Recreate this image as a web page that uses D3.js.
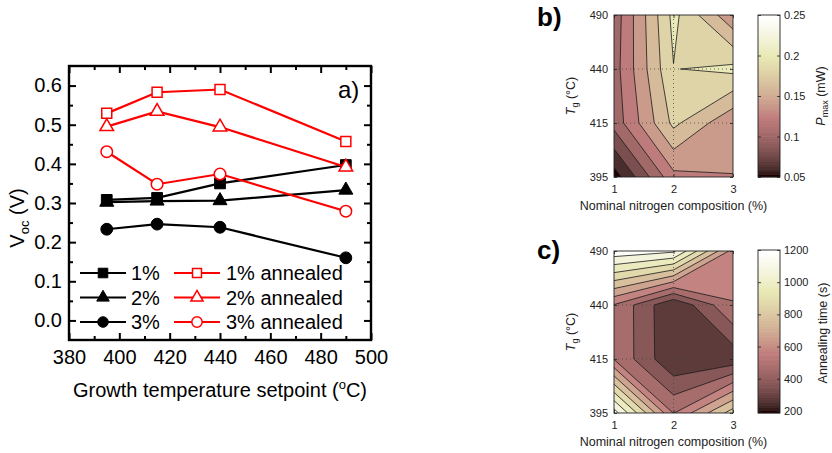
<!DOCTYPE html>
<html lang="en">
<head>
<meta charset="UTF-8">
<title>Voc vs growth temperature, Pmax and annealing time maps</title>
<script src="https://d3js.org/d3.v7.min.js"></script>
<style>
  body { margin: 0; background: #fff; }
  text { font-family: "Liberation Sans", Arial, sans-serif; }
</style>
</head>
<body>
<svg id="fig" width="832" height="453"></svg>
<script>
// ---- panel a data ----
const temps = [395, 415, 440, 490];
const voc1 = [0.308, 0.313, 0.350, 0.397];
const voc2 = [0.302, 0.305, 0.306, 0.333];
const voc3 = [0.233, 0.246, 0.238, 0.160];
const voc1a = [0.529, 0.583, 0.590, 0.457];
const voc2a = [0.495, 0.534, 0.494, 0.392];
const voc3a = [0.431, 0.348, 0.374, 0.279];
const xTicks = [380, 400, 420, 440, 460, 480, 500];
const xMinor = [390, 410, 430, 450, 470, 490];
const yTicks = [0.0, 0.1, 0.2, 0.3, 0.4, 0.5, 0.6];
const yMinor = [0.05, 0.15, 0.25, 0.35, 0.45, 0.55];

// ---- panels b and c data (rows: Tg = 490, 440, 415, 395; cols: N = 1, 2, 3) ----
const nitrogen = [1, 2, 3];
const tgRows = [490, 440, 415, 395];
const pmax = [
  [0.108, 0.206, 0.144],
  [0.111, 0.1993, 0.2053],
  [0.1075, 0.185, 0.143],
  [0.050, 0.134, 0.1398]
];
const pmaxLevels = [0.06, 0.08, 0.10, 0.12, 0.14, 0.16, 0.18, 0.20, 0.22, 0.24];
const pmaxTicks = [0.05, 0.1, 0.15, 0.2, 0.25];
const anneal = [
  [1170, 1120, 560],
  [495, 205, 495],
  [495, 210, 230],
  [1150, 495, 850]
];
const annealLevels = [200, 300, 400, 500, 600, 700, 800, 900, 1000, 1100];
const annealTicks = [200, 400, 600, 800, 1000, 1200];

const svg = d3.select("#fig");

// matlab "pink" colormap, 64 entries
function matlabPink(m) {
  const n = Math.floor(3 * m / 8);
  return d3.range(m).map(i => {
    const gr = i / (m - 1);
    const hr = i < n ? (i + 1) / n : 1;
    const hg = i < n ? 0 : i < 2 * n ? (i - n + 1) / n : 1;
    const hb = i < 2 * n ? 0 : (i - 2 * n + 1) / (m - 2 * n);
    return d3.rgb(255 * Math.sqrt((2 * gr + hr) / 3),
                  255 * Math.sqrt((2 * gr + hg) / 3),
                  255 * Math.sqrt((2 * gr + hb) / 3));
  });
}
const pink = matlabPink(64);
const cmap = t => pink[Math.max(0, Math.min(63, Math.floor(t * 64)))];

function styleAxis(g, size) {
  g.select(".domain").remove();
  g.attr("font-family", "Liberation Sans").attr("font-size", size);
}

// ================= panel a =================
const A = { left: 69, right: 371, top: 66, bottom: 340 };
const x = d3.scaleLinear().domain([380, 500]).range([A.left, A.right]);
const y = d3.scaleLinear().domain([-0.05, 0.65]).range([A.bottom, A.top]);
const ga = svg.append("g");

ga.append("g").attr("transform", `translate(0,${A.bottom})`)
  .call(d3.axisBottom(x).tickValues(xTicks).tickSize(-7).tickPadding(10).tickFormat(d3.format("d")))
  .call(g => styleAxis(g, 20));
ga.append("g").attr("transform", `translate(0,${A.bottom})`)
  .call(d3.axisBottom(x).tickValues(xMinor).tickSize(-4).tickFormat(""))
  .call(g => styleAxis(g, 20));
ga.append("g").attr("transform", `translate(0,${A.top})`)
  .call(d3.axisTop(x).tickValues(xTicks).tickSize(-7).tickFormat(""))
  .call(g => styleAxis(g, 20));
ga.append("g").attr("transform", `translate(0,${A.top})`)
  .call(d3.axisTop(x).tickValues(xMinor).tickSize(-4).tickFormat(""))
  .call(g => styleAxis(g, 20));
ga.append("g").attr("transform", `translate(${A.left},0)`)
  .call(d3.axisLeft(y).tickValues(yTicks).tickSize(-7).tickPadding(7).tickFormat(d3.format(".1f")))
  .call(g => styleAxis(g, 20));
ga.append("g").attr("transform", `translate(${A.left},0)`)
  .call(d3.axisLeft(y).tickValues(yMinor).tickSize(-4).tickFormat(""))
  .call(g => styleAxis(g, 20));
ga.append("g").attr("transform", `translate(${A.right},0)`)
  .call(d3.axisRight(y).tickValues(yTicks).tickSize(-7).tickFormat(""))
  .call(g => styleAxis(g, 20));
ga.append("g").attr("transform", `translate(${A.right},0)`)
  .call(d3.axisRight(y).tickValues(yMinor).tickSize(-4).tickFormat(""))
  .call(g => styleAxis(g, 20));
ga.selectAll(".tick line").attr("stroke", "#000").attr("stroke-width", 2);
ga.selectAll(".tick text").attr("fill", "#000");

ga.append("rect")
  .attr("x", A.left).attr("y", A.top)
  .attr("width", A.right - A.left).attr("height", A.bottom - A.top)
  .attr("fill", "none").attr("stroke", "#000").attr("stroke-width", 2.4);

const series = [
  { label: "1%", values: voc1, shape: d3.symbolSquare, size: 115, color: "#000", open: false },
  { label: "2%", values: voc2, shape: d3.symbolTriangle, size: 85, color: "#000", open: false },
  { label: "3%", values: voc3, shape: d3.symbolCircle, size: 110, color: "#000", open: false },
  { label: "1% annealed", values: voc1a, shape: d3.symbolSquare, size: 100, color: "#ff0000", open: true },
  { label: "2% annealed", values: voc2a, shape: d3.symbolTriangle, size: 80, color: "#ff0000", open: true },
  { label: "3% annealed", values: voc3a, shape: d3.symbolCircle, size: 105, color: "#ff0000", open: true }
];

const line = d3.line().x((d, i) => x(temps[i])).y(d => y(d));

function marker(sel, s, scale) {
  sel.attr("d", d3.symbol(s.shape, s.size * (scale || 1)))
    .attr("fill", s.open ? "#fff" : s.color)
    .attr("stroke", s.color)
    .attr("stroke-width", s.open ? 1.5 : 1);
}

series.forEach(s => {
  ga.append("path").datum(s.values)
    .attr("d", line).attr("fill", "none")
    .attr("stroke", s.color).attr("stroke-width", 2.2);
  ga.selectAll(null).data(s.values).enter().append("path")
    .attr("transform", (d, i) => `translate(${x(temps[i])},${y(d)})`)
    .call(sel => marker(sel, s));
});

// legend
const legRows = [273, 297.5, 322];
const legCols = [{ x0: 80, x1: 126, tx: 131 }, { x0: 174, x1: 220, tx: 226 }];
series.forEach((s, k) => {
  const c = legCols[Math.floor(k / 3)], ry = legRows[k % 3];
  const lg = ga.append("g");
  lg.append("line").attr("x1", c.x0).attr("x2", c.x1).attr("y1", ry).attr("y2", ry)
    .attr("stroke", s.color).attr("stroke-width", 2.2);
  lg.append("path").attr("transform", `translate(${(c.x0 + c.x1) / 2},${ry})`)
    .call(sel => marker(sel, s, 0.8));
  lg.append("text").attr("x", c.tx).attr("y", ry).attr("dy", "0.35em")
    .attr("font-size", 20).text(s.label);
});

ga.append("text").attr("x", 338).attr("y", 98).attr("font-size", 24).text("a)");

const xt = ga.append("text").attr("x", (A.left + A.right) / 2).attr("y", 397)
  .attr("text-anchor", "middle").attr("font-size", 20);
xt.append("tspan").text("Growth temperature setpoint (");
xt.append("tspan").attr("dy", -8).attr("font-size", 13).text("o");
xt.append("tspan").attr("dy", 8).text("C)");

const yt = ga.append("text").attr("transform", "translate(24,218) rotate(-90)")
  .attr("text-anchor", "middle").attr("font-size", 20);
yt.append("tspan").text("V");
yt.append("tspan").attr("dy", 5).attr("font-size", 13).text("oc");
yt.append("tspan").attr("dy", -5).text(" (V)");

// ================= panels b and c =================
function contourPanel(opt) {
  const { grid, levels, box, cb, cbDomain, cbTicks, bandColor, baseColor, id } = opt;
  const g = svg.append("g");
  const xN = d3.scaleLinear().domain([1, 3]).range([box.x0, box.x1]);
  const yT = d3.scalePoint().domain(tgRows).range([box.y0, box.y1]);
  // grid coordinates from d3.contours: sample i sits at i + 0.5
  const gx = d3.scaleLinear().domain([0.5, nitrogen.length - 0.5]).range([box.x0, box.x1]);
  const gy = d3.scaleLinear().domain([0.5, tgRows.length - 0.5]).range([box.y0, box.y1]);
  const path = d3.geoPath(d3.geoTransform({
    point(px, py) { this.stream.point(gx(px), gy(py)); }
  }));

  g.append("clipPath").attr("id", id).append("rect")
    .attr("x", box.x0).attr("y", box.y0)
    .attr("width", box.x1 - box.x0).attr("height", box.y1 - box.y0);

  const contours = d3.contours().size([nitrogen.length, tgRows.length])
    .thresholds(levels)(grid.flat());

  const plot = g.append("g").attr("clip-path", `url(#${id})`);
  plot.append("rect")
    .attr("x", box.x0).attr("y", box.y0)
    .attr("width", box.x1 - box.x0).attr("height", box.y1 - box.y0)
    .attr("fill", baseColor);
  plot.selectAll("path.band").data(contours).enter().append("path")
    .attr("class", "band")
    .attr("d", path)
    .attr("fill", d => bandColor(d.value))
    .attr("stroke", "#1a1a1a").attr("stroke-width", 0.8)
    .attr("stroke-linejoin", "round");

  // dotted grid
  plot.selectAll("line.gx").data(nitrogen.slice(1, -1)).enter().append("line")
    .attr("x1", d => xN(d)).attr("x2", d => xN(d))
    .attr("y1", box.y0).attr("y2", box.y1)
    .attr("stroke", "#4a4a3a").attr("stroke-width", 0.8).attr("stroke-dasharray", "1,3");
  plot.selectAll("line.gy").data(tgRows.slice(1, -1)).enter().append("line")
    .attr("x1", box.x0).attr("x2", box.x1)
    .attr("y1", d => yT(d)).attr("y2", d => yT(d))
    .attr("stroke", "#4a4a3a").attr("stroke-width", 0.8).attr("stroke-dasharray", "1,3");

  // axes
  g.append("g").attr("transform", `translate(0,${box.y1})`)
    .call(d3.axisBottom(xN).tickValues(nitrogen).tickSize(-3).tickPadding(8).tickFormat(d3.format("d")))
    .call(s => styleAxis(s, 11));
  g.append("g").attr("transform", `translate(0,${box.y0})`)
    .call(d3.axisTop(xN).tickValues(nitrogen).tickSize(-3).tickFormat(""))
    .call(s => styleAxis(s, 11));
  g.append("g").attr("transform", `translate(${box.x0},0)`)
    .call(d3.axisLeft(yT).tickSize(-3).tickPadding(6))
    .call(s => styleAxis(s, 11));
  g.append("g").attr("transform", `translate(${box.x1},0)`)
    .call(d3.axisRight(yT).tickSize(-3).tickFormat(""))
    .call(s => styleAxis(s, 11));
  g.selectAll(".tick line").attr("stroke", "#222").attr("stroke-width", 0.8);
  g.selectAll(".tick text").attr("fill", "#222");
  g.append("rect")
    .attr("x", box.x0).attr("y", box.y0)
    .attr("width", box.x1 - box.x0).attr("height", box.y1 - box.y0)
    .attr("fill", "none").attr("stroke", "#222").attr("stroke-width", 0.9);

  // colorbar
  const cbY = d3.scaleLinear().domain(cbDomain).range([cb.y1, cb.y0]);
  const steps = d3.range(64);
  const stepH = (cb.y1 - cb.y0) / 64;
  g.selectAll("rect.cb").data(steps).enter().append("rect")
    .attr("class", "cb")
    .attr("x", cb.x0).attr("width", cb.x1 - cb.x0)
    .attr("y", i => cb.y1 - (i + 1) * stepH - 0.3).attr("height", stepH + 0.6)
    .attr("fill", i => pink[i]);
  g.append("g").attr("transform", `translate(${cb.x1},0)`)
    .call(d3.axisRight(cbY).tickValues(cbTicks).tickSize(-3).tickPadding(4).tickFormat(d => String(d)))
    .call(s => styleAxis(s, 11));
  g.append("g").attr("transform", `translate(${cb.x0},0)`)
    .call(d3.axisLeft(cbY).tickValues(cbTicks).tickSize(-3).tickFormat(""))
    .call(s => styleAxis(s, 11));
  g.selectAll(".tick line").attr("stroke", "#222").attr("stroke-width", 0.8);
  g.selectAll(".tick text").attr("fill", "#222");
  g.append("rect")
    .attr("x", cb.x0).attr("y", cb.y0)
    .attr("width", cb.x1 - cb.x0).attr("height", cb.y1 - cb.y0)
    .attr("fill", "none").attr("stroke", "#222").attr("stroke-width", 0.9);

  // x title
  g.append("text").attr("x", (box.x0 + box.x1) / 2).attr("y", box.y1 + 33)
    .attr("text-anchor", "middle").attr("font-size", 12.5).attr("fill", "#222")
    .text("Nominal nitrogen composition (%)");
  // y title
  const t = g.append("text")
    .attr("transform", `translate(${box.x0 - 39},${(box.y0 + box.y1) / 2}) rotate(-90)`)
    .attr("text-anchor", "middle").attr("font-size", 12.5).attr("fill", "#222");
  t.append("tspan").attr("font-style", "italic").text("T");
  t.append("tspan").attr("dy", 3).attr("font-size", 9).text("g");
  t.append("tspan").attr("dy", -3).text(" (°C)");
  return g;
}

const gb = contourPanel({
  id: "clipB",
  grid: pmax,
  levels: pmaxLevels,
  box: { x0: 614, x1: 733, y0: 15, y1: 177 },
  cb: { x0: 758, x1: 780, y0: 15, y1: 177 },
  cbDomain: [0.05, 0.25],
  cbTicks: pmaxTicks,
  bandColor: v => cmap((v - 0.05) / 0.2),
  baseColor: cmap(0)
});
const pt = gb.append("text").attr("transform", "translate(825,96) rotate(-90)")
  .attr("text-anchor", "middle").attr("font-size", 12.5).attr("fill", "#222");
pt.append("tspan").attr("font-style", "italic").text("P");
pt.append("tspan").attr("dy", 3).attr("font-size", 9).text("max");
pt.append("tspan").attr("dy", -3).text(" (mW)");
gb.append("text").attr("x", 537).attr("y", 26)
  .attr("font-family", "Liberation Serif").attr("font-weight", "bold").attr("font-size", 26).text("b)");

const cLo = 187, cHi = 1200;
const gc = contourPanel({
  id: "clipC",
  grid: anneal,
  levels: annealLevels,
  box: { x0: 614, x1: 733, y0: 251, y1: 413 },
  cb: { x0: 758, x1: 780, y0: 250, y1: 413 },
  cbDomain: [cLo, cHi],
  cbTicks: annealTicks,
  bandColor: v => cmap((v + 70 - cLo) / (cHi - cLo)),
  baseColor: cmap(0)
});
gc.append("text").attr("transform", "translate(827,333) rotate(-90)")
  .attr("text-anchor", "middle").attr("font-size", 12.5).attr("fill", "#222")
  .text("Annealing time (s)");
gc.append("text").attr("x", 537).attr("y", 259)
  .attr("font-family", "Liberation Serif").attr("font-weight", "bold").attr("font-size", 26).text("c)");
</script>
</body>
</html>
